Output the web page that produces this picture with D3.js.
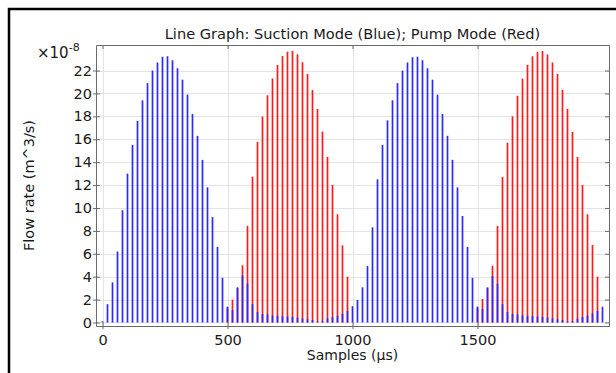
<!DOCTYPE html>
<html>
<head>
<meta charset="utf-8">
<script src="https://cdn.jsdelivr.net/npm/d3@7"></script>
<style>
  html, body { margin: 0; padding: 0; background: #fff; }
  svg { display: block; }
  text { font-family: "DejaVu Sans", sans-serif; fill: #1a1a1a; }
</style>
</head>
<body>
<svg id="chart" width="616" height="373"></svg>
<script>
// ---- Data ----
const samples = [0,20,40,60,80,100,120,140,160,180,200,220,240,260,280,300,320,340,360,380,400,420,440,460,480,
  500,520,540,560,580,600,620,640,660,680,700,720,740,760,780,800,820,840,860,880,900,920,940,960,980,
  1000,1020,1040,1060,1080,1100,1120,1140,1160,1180,1200,1220,1240,1260,1280,1300,1320,1340,1360,1380,1400,1420,1440,1460,1480,
  1500,1520,1540,1560,1580,1600,1620,1640,1660,1680,1700,1720,1740,1760,1780,1800,1820,1840,1860,1880,1900,1920,1940,1960,1980,2000];

// Suction mode (blue), units of 1e-8 m^3/s
const suction = [0.1,1.6,3.5,6.2,9.8,13.0,15.5,17.6,19.4,20.9,22.0,22.7,23.2,23.25,22.9,22.2,21.2,19.9,18.2,16.3,14.2,11.8,9.2,6.6,3.9,
  1.38,1.1,3.07,4.1,3.4,1.6,0.92,0.74,0.7,0.62,0.58,0.55,0.52,0.5,0.42,0.36,0.28,0.22,0.08,0.12,0.34,0.46,0.58,0.76,1.02,
  1.42,1.97,3.07,4.93,8.31,12.5,15.5,17.65,19.4,20.9,22.0,22.7,23.15,23.2,22.9,22.2,21.2,19.9,18.2,16.3,14.2,11.8,9.3,6.6,3.9,
  1.38,1.18,3.07,4.06,3.39,1.6,0.92,0.74,0.7,0.62,0.58,0.55,0.52,0.5,0.42,0.36,0.28,0.22,0.08,0.12,0.34,0.48,0.6,0.8,1.0,1.38];

// Pump mode (red)
const pump = [0,0,0,0,0,0,0,0,0,0,0,0,0,0,0,0,0,0,0,0,0,0,0,0,0,
  1.3,2.0,3.0,5.0,8.43,12.73,15.76,17.98,19.84,21.3,22.49,23.27,23.65,23.71,23.42,22.72,21.7,20.3,18.65,16.67,14.45,12.0,9.45,6.74,4.0,
  0,0,0,0,0,0,0,0,0,0,0,0,0,0,0,0,0,0,0,0,0,0,0,0,0,
  1.3,2.05,3.0,4.96,8.43,12.7,15.7,18.0,19.8,21.3,22.5,23.25,23.65,23.7,23.4,22.7,21.7,20.3,18.65,16.65,14.45,12.0,9.45,6.77,4.0,0];

const xTicks = [0, 500, 1000, 1500];
const yTicks = [0, 2, 4, 6, 8, 10, 12, 14, 16, 18, 20, 22];

const titleText = "Line Graph: Suction Mode (Blue); Pump Mode (Red)";
const xLabel = "Samples (\u00b5s)";
const yLabel = "Flow rate (m^3/s)";

// ---- Layout ----
const svg = d3.select("#chart");
const L = 96, R = 609, T = 45, B = 326;

const x = d3.scaleLinear().domain([-26, 2026]).range([L, R]);
const y = d3.scaleLinear().domain([-0.306, 24.23]).range([B, T]);

// outer black frame (left/top visible)
svg.append("rect").attr("x", 9).attr("y", 9).attr("width", 640).attr("height", 400)
  .attr("fill", "none").attr("stroke", "#000").attr("stroke-width", 2.5);

// grid
const grid = svg.append("g");
grid.selectAll(".gx").data(xTicks).join("line")
  .attr("x1", d => Math.round(x(d)) + 0.5).attr("x2", d => Math.round(x(d)) + 0.5)
  .attr("y1", T).attr("y2", B).attr("stroke", "#e3e3e3").attr("stroke-width", 1);
grid.selectAll(".gy").data(yTicks).join("line")
  .attr("y1", d => Math.round(y(d)) + 0.5).attr("y2", d => Math.round(y(d)) + 0.5)
  .attr("x1", L).attr("x2", R).attr("stroke", "#e3e3e3").attr("stroke-width", 1);

// bars: red first, blue on top
const data = samples.map((s, i) => ({ s, b: suction[i], r: pump[i] }));
svg.append("g").selectAll("line").data(data.filter(d => d.r > 0)).join("line")
  .attr("x1", d => x(d.s)).attr("x2", d => x(d.s))
  .attr("y1", y(0)).attr("y2", d => y(d.r))
  .attr("stroke", "#ff1a1a").attr("stroke-width", 1.7);
svg.append("g").selectAll("line").data(data).join("line")
  .attr("x1", d => x(d.s)).attr("x2", d => x(d.s))
  .attr("y1", y(0)).attr("y2", d => y(d.b))
  .attr("stroke", "#2a2aff").attr("stroke-width", 1.7);

// axes (box with inward ticks)
const axColor = "#6a6a6a";
const axB = svg.append("g").attr("transform", `translate(0,${B})`)
  .call(d3.axisBottom(x).tickValues(xTicks).tickFormat(d3.format("d")).tickSizeInner(-4).tickSizeOuter(0).tickPadding(9));
const axT = svg.append("g").attr("transform", `translate(0,${T})`)
  .call(d3.axisTop(x).tickValues(xTicks).tickSizeInner(-4).tickSizeOuter(0).tickFormat(""));
const axL = svg.append("g").attr("transform", `translate(${L},0)`)
  .call(d3.axisLeft(y).tickValues(yTicks).tickSizeInner(-4).tickSizeOuter(0).tickPadding(4));
const axR = svg.append("g").attr("transform", `translate(${R},0)`)
  .call(d3.axisRight(y).tickValues(yTicks).tickSizeInner(-4).tickSizeOuter(0).tickFormat(""));
[axB, axT, axL, axR].forEach(g => {
  g.select(".domain").attr("stroke", axColor);
  g.selectAll(".tick line").attr("stroke", axColor);
  g.selectAll("text").style("font-family", "DejaVu Sans, sans-serif").style("font-size", "14.5px").attr("fill", "#1a1a1a");
});
// left/bottom tick marks also stick outward slightly like the reference
axL.selectAll(".tick").append("line").attr("x1", 0).attr("x2", -3).attr("stroke", axColor);
axB.selectAll(".tick").append("line").attr("y1", 0).attr("y2", 3).attr("stroke", axColor);

// title and labels
svg.append("text").attr("x", (L + R) / 2).attr("y", 39).attr("text-anchor", "middle")
  .style("font-size", "14.6px").text(titleText);
svg.append("text").attr("x", (L + R) / 2).attr("y", 360).attr("text-anchor", "middle")
  .style("font-size", "14px").text(xLabel);
svg.append("text").attr("transform", `translate(34,${(T + B) / 2}) rotate(-90)`).attr("text-anchor", "middle")
  .style("font-size", "14.5px").text(yLabel);

// exponent
const ex = svg.append("text").attr("x", 37).attr("y", 58).style("font-size", "15px");
ex.append("tspan").text("\u00d710");
ex.append("tspan").attr("dy", -7).style("font-size", "11px").text("-8");
</script>
</body>
</html>
